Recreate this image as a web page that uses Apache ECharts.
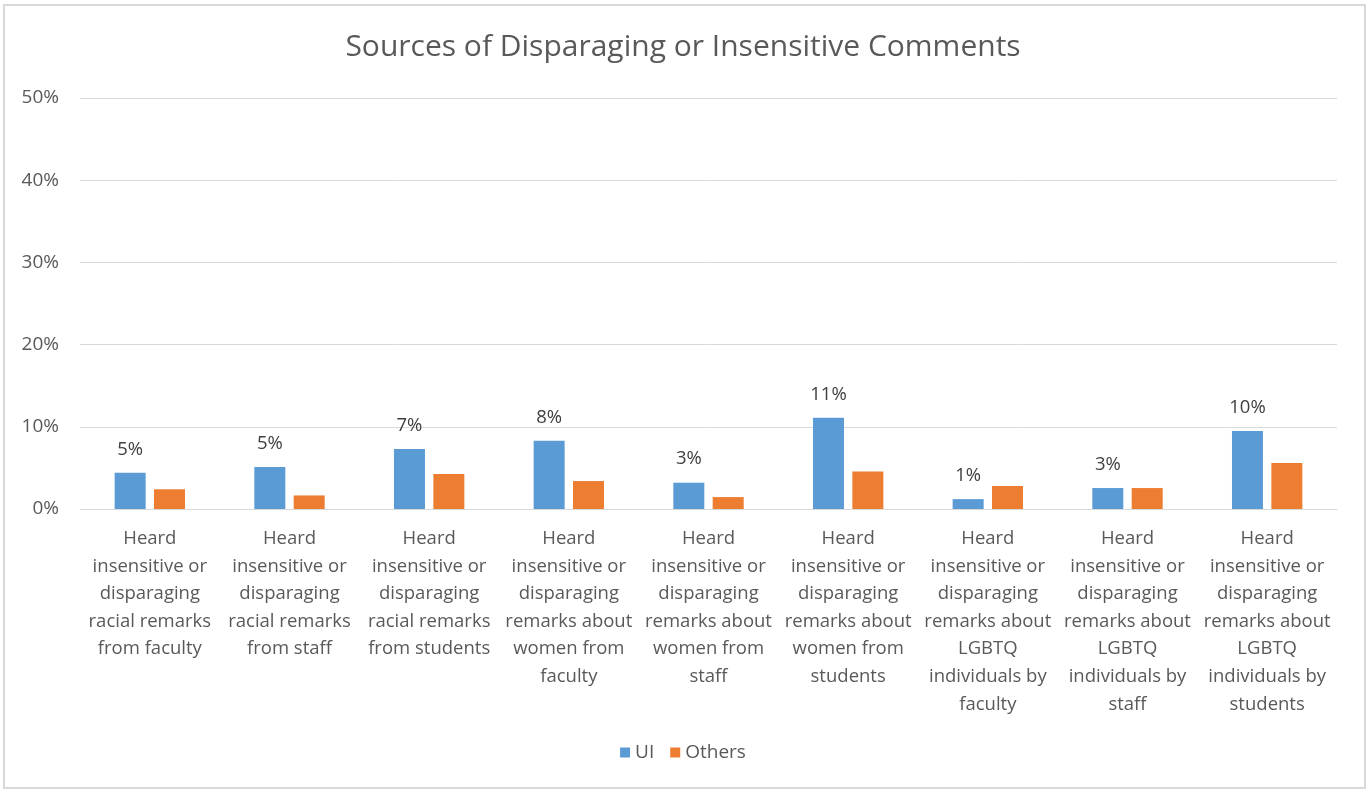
<!DOCTYPE html>
<html><head><meta charset="utf-8">
<script src="https://cdn.jsdelivr.net/npm/echarts@6/dist/echarts.min.js"></script>
<style>
html,body{margin:0;padding:0;background:#fff;}
#wrap{position:relative;width:1366px;height:789px;}
#chart{position:absolute;left:0;top:0;width:1366px;height:789px;}
#frame{position:absolute;left:3px;top:4px;width:1363px;height:785px;box-sizing:border-box;border:2px solid #d9d9d9;pointer-events:none;}
</style></head>
<body>
<div id="wrap"><div id="chart"></div><div id="frame"></div></div>
<script>
const categories = [
  "Heard\ninsensitive or\ndisparaging\nracial remarks\nfrom faculty",
  "Heard\ninsensitive or\ndisparaging\nracial remarks\nfrom staff",
  "Heard\ninsensitive or\ndisparaging\nracial remarks\nfrom students",
  "Heard\ninsensitive or\ndisparaging\nremarks about\nwomen from\nfaculty",
  "Heard\ninsensitive or\ndisparaging\nremarks about\nwomen from\nstaff",
  "Heard\ninsensitive or\ndisparaging\nremarks about\nwomen from\nstudents",
  "Heard\ninsensitive or\ndisparaging\nremarks about\nLGBTQ\nindividuals by\nfaculty",
  "Heard\ninsensitive or\ndisparaging\nremarks about\nLGBTQ\nindividuals by\nstaff",
  "Heard\ninsensitive or\ndisparaging\nremarks about\nLGBTQ\nindividuals by\nstudents"
];
const uiValues = [4.4, 5.1, 7.3, 8.3, 3.2, 11.1, 1.2, 2.55, 9.5];
const othersValues = [2.4, 1.65, 4.25, 3.4, 1.45, 4.55, 2.8, 2.55, 5.6];
const uiLabels = ["5%", "5%", "7%", "8%", "3%", "11%", "1%", "3%", "10%"];
const yTicks = [0, 10, 20, 30, 40, 50];

const FONT = "'Open Sans', 'Noto Sans', sans-serif";
const chart = echarts.init(document.getElementById('chart'));
chart.setOption({
  animation: false,
  backgroundColor: '#fff',
  title: {
    text: 'Sources of Disparaging or Insensitive Comments',
    left: 'center', top: 27,
    textStyle: { fontFamily: FONT, fontSize: 30, fontWeight: 'normal', color: '#595959' }
  },
  legend: {
    bottom: 22, left: 'center',
    itemWidth: 10, itemHeight: 10, itemGap: 16,
    icon: 'rect',
    textStyle: { fontFamily: FONT, fontSize: 19, color: '#595959' },
    data: ['UI', 'Others']
  },
  grid: { left: 80, right: 29, top: 98, bottom: 280, containLabel: false },
  xAxis: {
    type: 'category',
    data: categories,
    axisLine: { lineStyle: { color: '#d9d9d9', width: 1 } },
    axisTick: { show: false },
    axisLabel: {
      interval: 0, margin: 16,
      fontFamily: FONT, fontSize: 18.5, color: '#595959',
      lineHeight: 27.6, align: 'center'
    }
  },
  yAxis: {
    type: 'value', min: yTicks[0], max: yTicks[yTicks.length - 1], interval: 10,
    axisLine: { show: false }, axisTick: { show: false },
    splitLine: { lineStyle: { color: '#d9d9d9', width: 1 } },
    axisLabel: {
      margin: 21, fontFamily: FONT, fontSize: 19, color: '#595959',
      formatter: v => v + '%'
    }
  },
  series: [
    {
      name: 'UI', type: 'bar', data: uiValues,
      barWidth: 31, barGap: '27%',
      itemStyle: { color: '#5B9BD5' },
      label: {
        show: true, position: 'top', distance: 14,
        fontFamily: FONT, fontSize: 18.5, color: '#404040',
        formatter: p => uiLabels[p.dataIndex]
      }
    },
    {
      name: 'Others', type: 'bar', data: othersValues,
      barWidth: 31,
      itemStyle: { color: '#ED7D31' }
    }
  ]
});
</script>
</body></html>
